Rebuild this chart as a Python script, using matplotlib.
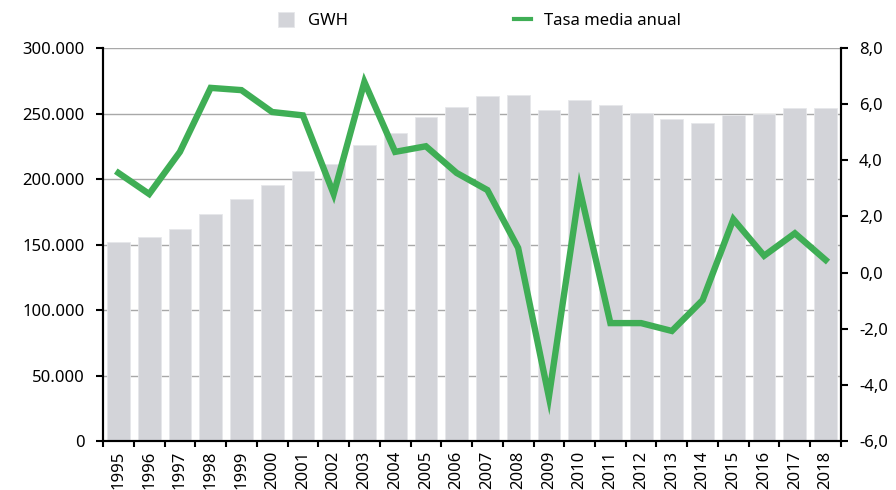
import matplotlib.pyplot as plt
from matplotlib.ticker import FuncFormatter, FixedLocator

years = [str(y) for y in range(1995, 2019)]
gwh = [152000, 155700, 161800, 173300, 184700, 195400, 206100, 211500,
       226000, 235100, 247300, 255000, 263400, 264100, 252700, 260300,
       256500, 250400, 245800, 242700, 248900, 249600, 254200, 254200]
tasa = [3.55, 2.8, 4.3, 6.58, 6.5, 5.72, 5.6, 2.8, 6.79, 4.3, 4.5, 3.55,
        2.94, 0.88, -4.43, 2.98, -1.8, -1.8, -2.08, -0.98, 1.9, 0.6, 1.4, 0.45]

bar_color = "#D3D4D9"
green = "#3FAE55"

plt.rcParams["font.family"] = ["Noto Sans", "DejaVu Sans"]

fig = plt.figure(figsize=(8.96, 4.9), dpi=100)
ax = fig.add_axes([0.115, 0.10, 0.8236, 0.802])
x = list(range(len(years)))

ax.bar(x, gwh, width=0.74, color=bar_color, edgecolor="#E6E7EA", linewidth=0.6,
       zorder=2, label="GWH")
ax.set_ylim(0, 300000)
ax.set_xlim(-0.5, len(years) - 0.5)
ax.set_yticks(range(0, 300001, 50000))
ax.yaxis.set_major_formatter(FuncFormatter(lambda v, p: f"{int(v):,}".replace(",", ".")))
ax.grid(axis="y", color="#A8A8A8", linewidth=1.0, zorder=0)
ax.set_axisbelow(True)

ax.set_xticks(x)
ax.set_xticklabels(years, rotation=90, fontsize=12)
ax.tick_params(axis="x", length=0, pad=7)
ax.xaxis.set_minor_locator(FixedLocator([i - 0.5 for i in range(len(years) + 1)]))
ax.tick_params(axis="x", which="minor", length=4, width=1.5, color="black")
ax.tick_params(axis="y", length=5, width=1.5, labelsize=12, pad=8)

ax2 = ax.twinx()
ax2.plot(x, tasa, color=green, linewidth=4.6, zorder=5, label="Tasa media anual",
         solid_joinstyle="miter")
ax2.set_ylim(-6, 8)
ax2.set_yticks(range(-6, 9, 2))
ax2.yaxis.set_major_formatter(FuncFormatter(lambda v, p: f"{v:.1f}".replace(".", ",")))
ax2.tick_params(axis="y", length=5, width=1.5, labelsize=12, pad=8)

for a in (ax, ax2):
    a.spines["top"].set_visible(False)
    for s in ("left", "right", "bottom"):
        a.spines[s].set_linewidth(1.5)
        a.spines[s].set_color("black")

h1, l1 = ax.get_legend_handles_labels()
h2, l2 = ax2.get_legend_handles_labels()
leg = fig.legend(h1 + h2, l1 + l2, loc="center", bbox_to_anchor=(0.535, 0.958),
                 ncol=2, frameon=False, fontsize=12, columnspacing=10,
                 handlelength=1.0, handleheight=1.0, handletextpad=0.8)
leg.legend_handles[1].set_linewidth(3)

fig.savefig("out.png", dpi=100)
